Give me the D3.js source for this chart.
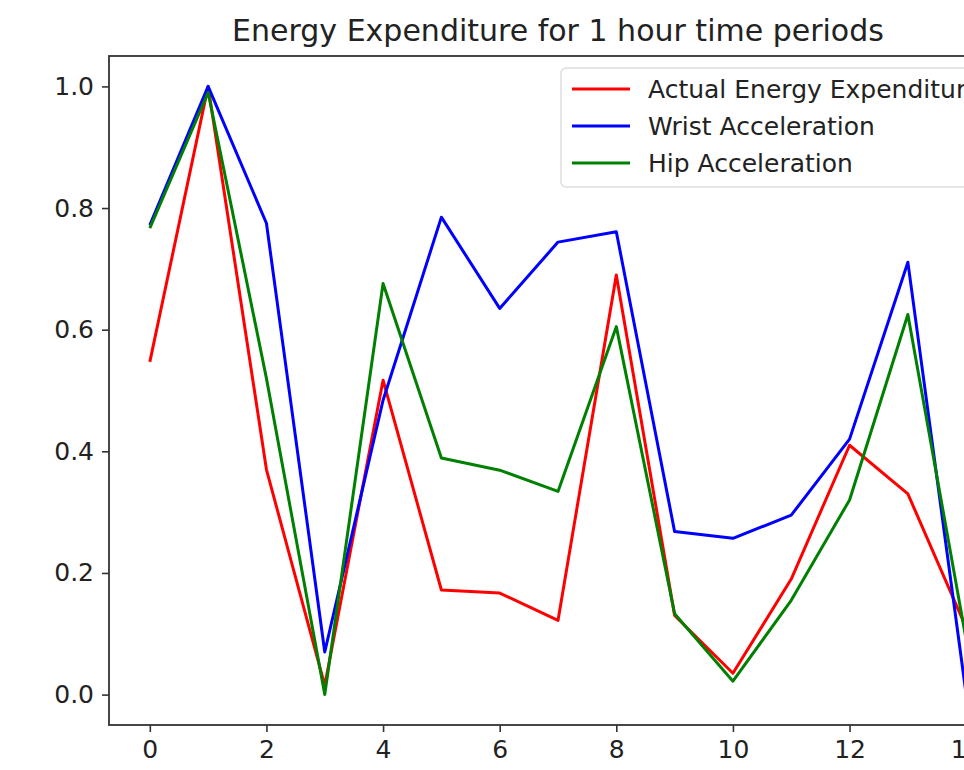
<!DOCTYPE html>
<html>
<head>
<meta charset="utf-8">
<script src="https://cdn.jsdelivr.net/npm/d3@7"></script>
<style>
  body { margin: 0; background: #fff; }
  svg { display: block; font-family: "DejaVu Sans", sans-serif; }
</style>
</head>
<body>
<svg id="chart" width="964" height="770"></svg>
<script>
// hour index 0..14
var periodos = d3.range(0, 15);
var actualEnergy = [0.547, 1.0, 0.37, 0.015, 0.517, 0.172, 0.167, 0.122, 0.69, 0.13, 0.035, 0.19, 0.41, 0.33, 0.11];
var wristAccel   = [0.772, 1.0, 0.775, 0.07, 0.484, 0.785, 0.635, 0.744, 0.761, 0.268, 0.257, 0.295, 0.42, 0.711, 0.0];
var hipAccel     = [0.767, 0.99, 0.52, 0.0, 0.676, 0.389, 0.369, 0.334, 0.605, 0.133, 0.022, 0.155, 0.32, 0.625, 0.09];
var xTicks = [0, 2, 4, 6, 8, 10, 12, 14];
var yTicks = [0.0, 0.2, 0.4, 0.6, 0.8, 1.0];
var seriesNames = ["Actual Energy Expenditure", "Wrist Acceleration", "Hip Acceleration"];
var seriesColors = ["red", "blue", "green"];

function dibujarGrafico() {
    var svg = d3.select("#chart");

    var mLeft = 109, mTop = 56, mRight = 1007, mBottom = 725;

    var x = d3.scaleLinear().domain([-0.7, 14.7]).range([mLeft, mRight]);
    var y = d3.scaleLinear().domain([-0.05, 1.05]).range([mBottom, mTop]);

    svg.append("defs").append("clipPath").attr("id", "plotClip")
       .append("rect")
       .attr("x", mLeft).attr("y", mTop)
       .attr("width", mRight - mLeft).attr("height", mBottom - mTop);

    // title
    svg.append("text")
       .attr("x", (mLeft + mRight) / 2)
       .attr("y", 41)
       .attr("text-anchor", "middle")
       .attr("font-size", "30px")
       .attr("fill", "#222")
       .text("Energy Expenditure for 1 hour time periods");

    // lines
    var series = [actualEnergy, wristAccel, hipAccel];
    var line = d3.line()
       .x(function(d, i) { return x(periodos[i]); })
       .y(function(d) { return y(d); });

    var g = svg.append("g").attr("clip-path", "url(#plotClip)");
    series.forEach(function(s, k) {
        g.append("path")
         .datum(s)
         .attr("fill", "none")
         .attr("stroke", seriesColors[k])
         .attr("stroke-width", 3)
         .attr("stroke-linejoin", "round")
         .attr("d", line);
    });

    // axes
    var xAxis = svg.append("g")
       .attr("transform", "translate(0," + mBottom + ")")
       .call(d3.axisBottom(x).tickValues(xTicks).tickSize(7).tickPadding(8).tickFormat(d3.format("d")));

    var yAxis = svg.append("g")
       .attr("transform", "translate(" + mLeft + ",0)")
       .call(d3.axisLeft(y).tickValues(yTicks).tickSize(7).tickPadding(8).tickFormat(d3.format(".1f")));

    [xAxis, yAxis].forEach(function(ax) {
        ax.select(".domain").remove();
        ax.selectAll("line").attr("stroke", "#333").attr("stroke-width", 1.6);
        ax.selectAll("text").attr("font-size", "25px").attr("fill", "#222")
          .attr("font-family", "DejaVu Sans, sans-serif");
    });

    // spines
    svg.append("rect")
       .attr("x", mLeft).attr("y", mTop)
       .attr("width", mRight - mLeft).attr("height", mBottom - mTop)
       .attr("fill", "none")
       .attr("stroke", "#333")
       .attr("stroke-width", 1.8);

    // legend
    var legend = svg.append("g");
    legend.append("rect")
       .attr("x", 561).attr("y", 68)
       .attr("width", 436).attr("height", 119)
       .attr("rx", 5)
       .attr("fill", "#fff").attr("fill-opacity", 0.8)
       .attr("stroke", "#ddd").attr("stroke-width", 1.5);

    seriesNames.forEach(function(name, k) {
        var cy = 89 + k * 37;
        legend.append("line")
           .attr("x1", 572).attr("x2", 630)
           .attr("y1", cy).attr("y2", cy)
           .attr("stroke", seriesColors[k])
           .attr("stroke-width", 3);
        legend.append("text")
           .attr("x", 648).attr("y", cy + 9)
           .attr("font-size", "25px")
           .attr("fill", "#222")
           .text(name);
    });
}

dibujarGrafico();
</script>
</body>
</html>
